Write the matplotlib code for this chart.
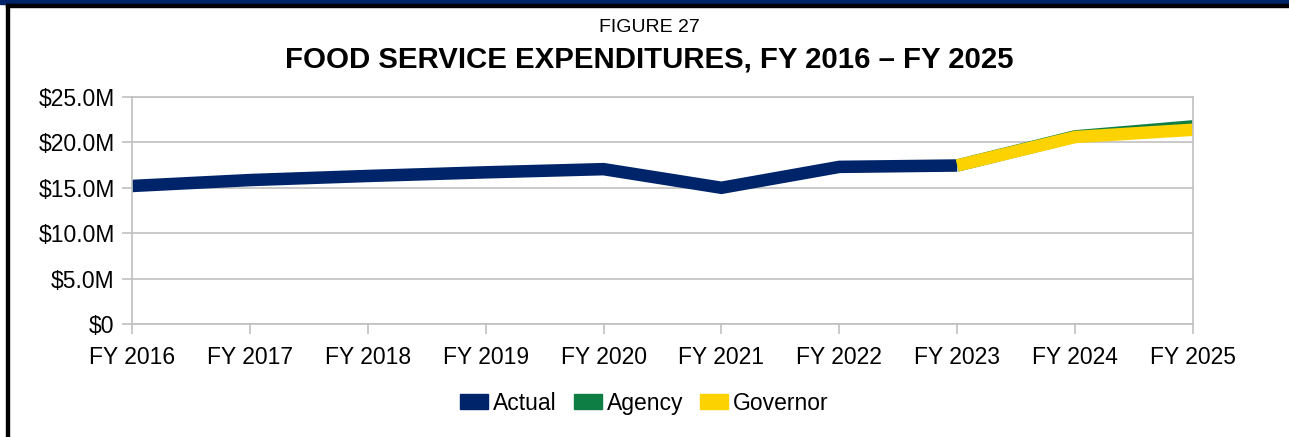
import matplotlib
matplotlib.use("Agg")
import matplotlib.pyplot as plt
from matplotlib.patches import Rectangle, Patch
from matplotlib.ticker import FuncFormatter

plt.rcParams['font.family'] = ['Liberation Sans', 'DejaVu Sans']

years = ["FY 2016", "FY 2017", "FY 2018", "FY 2019", "FY 2020",
         "FY 2021", "FY 2022", "FY 2023", "FY 2024", "FY 2025"]
actual = [15.2, 15.85, 16.3, 16.7, 17.05, 15.0, 17.3, 17.45]      # $M, FY2016-FY2023
agency = [17.45, 20.65, 21.75]                                     # $M, FY2023-FY2025
governor = [17.45, 20.58, 21.38]                                   # $M, FY2023-FY2025

navy = "#002469"
green = "#0E7E45"
yellow = "#FCD200"
grid_c = "#c0c0c0"

fig = plt.figure(figsize=(12.89, 4.37), dpi=100)
ax = fig.add_axes([132/1289, 1 - 324.3/437, (1193-132)/1289, (324.3-96.8)/437])

x_all = list(range(len(years)))
lw = 9
ax.plot(x_all[:len(actual)], actual, color=navy, lw=lw, solid_capstyle='butt', solid_joinstyle='miter')
ax.plot(x_all[7:], agency, color=green, lw=lw, solid_capstyle='butt', solid_joinstyle='miter')
ax.plot(x_all[7:], governor, color=yellow, lw=lw, solid_capstyle='butt', solid_joinstyle='miter')

ax.set_xlim(0, len(years) - 1)
ax.set_ylim(0, 25)
ax.set_xticks(x_all)
ax.set_xticklabels(years)
ax.set_yticks([0, 5, 10, 15, 20, 25])
ax.yaxis.set_major_formatter(FuncFormatter(lambda v, p: "$0" if v == 0 else f"${v:.1f}M"))
ax.grid(axis='y', color=grid_c, lw=1.2)
ax.set_axisbelow(True)
for s in ax.spines.values():
    s.set_color(grid_c)
    s.set_linewidth(1.2)
ax.tick_params(axis='both', length=7.5, width=1.2, color=grid_c, labelsize=16.5, colors='black')
ax.tick_params(axis='x', pad=8)
ax.tick_params(axis='y', pad=5)
for s in ax.spines.values():
    s.set_edgecolor(grid_c)

fig.text(0.504, 1 - 27/437, "FIGURE 27", ha='center', va='center', fontsize=14)
fig.text(0.504, 1 - 59/437, "FOOD SERVICE EXPENDITURES, FY 2016 \u2013 FY 2025", ha='center', va='center',
         fontsize=21.2, fontweight='bold')

handles = [Patch(color=navy, label="Actual"), Patch(color=green, label="Agency"),
           Patch(color=yellow, label="Governor")]
fig.legend(handles=handles, loc='center', bbox_to_anchor=(0.5, 0.077), ncol=3, frameon=False,
           fontsize=16.5, handlelength=1.22, handleheight=0.61, handletextpad=0.22, columnspacing=0.74)

# page border
fig.patches.append(Rectangle((0, 1 - 4/437), 1, 4/437, transform=fig.transFigure, color=navy, zorder=10))
fig.patches.append(Rectangle((6/1289, 1 - 7/437), 1, 3/437, transform=fig.transFigure, color='black', zorder=10))
fig.patches.append(Rectangle((6/1289, 0), 3/1289, 1 - 4/437, transform=fig.transFigure, color='black', zorder=10))

fig.savefig("out.png", dpi=100)
